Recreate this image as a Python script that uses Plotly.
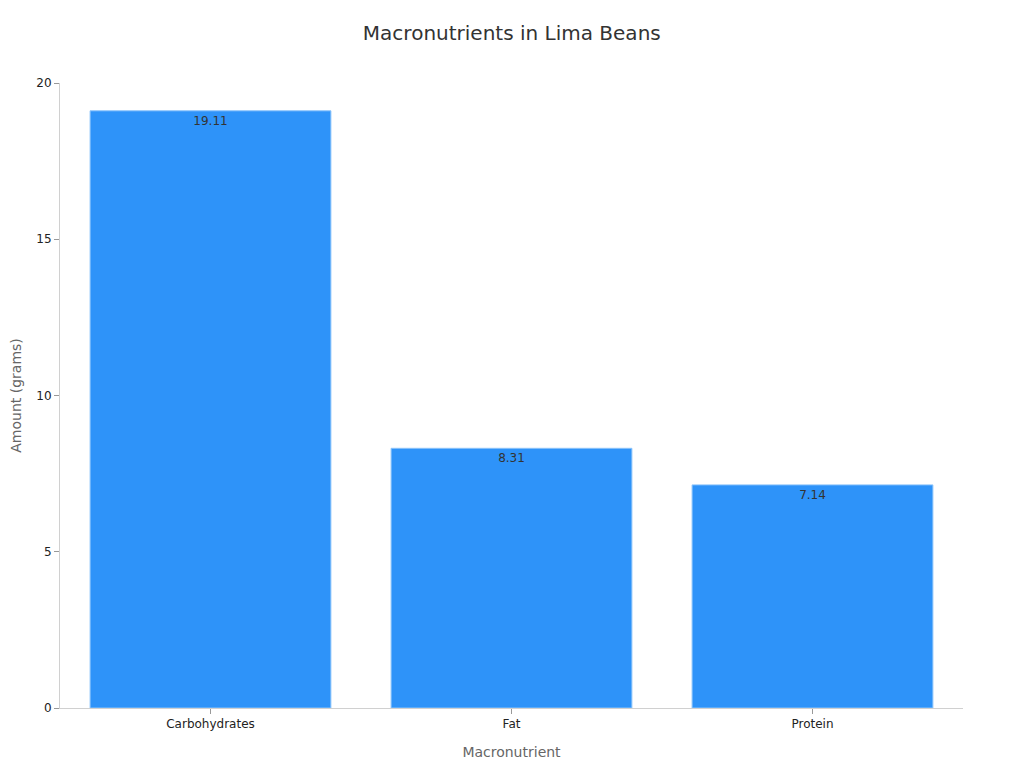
import plotly.graph_objects as go

categories = ["Carbohydrates", "Fat", "Protein"]
values = [19.11, 8.31, 7.14]
labels = ["19.11", "8.31", "7.14"]

fig = go.Figure(go.Bar(
    x=categories, y=values, text=labels,
    textposition="inside", insidetextanchor="end",
    textfont=dict(color="#333333", size=12, family="DejaVu Sans"),
    marker=dict(color="#2E93F9", line=dict(color="#8cc4fb", width=1)),
    cliponaxis=False,
))

fig.update_layout(
    width=1024, height=768,
    paper_bgcolor="white", plot_bgcolor="white",
    font=dict(family="DejaVu Sans", color="#222222", size=12),
    title=dict(text="Macronutrients in Lima Beans", x=0.492, xanchor="center", y=0.9674, yanchor="middle",
               font=dict(size=20, color="#333333")),
    margin=dict(l=52, r=69, t=75, b=68),
    bargap=0.2,
    showlegend=False,
)
fig.update_xaxes(
    title=dict(text="Macronutrient", font=dict(size=14, color="#666666"), standoff=16),
    showline=True, linecolor="#d0d0d0", linewidth=1,
    ticks="outside", tickcolor="#999999", ticklen=5,
    tickfont=dict(size=12, color="#222222"), showgrid=False, automargin=False,
)
fig.update_yaxes(
    title=dict(text="Amount (grams)", font=dict(size=14, color="#666666"), standoff=21),
    range=[0, 20], dtick=5,
    showline=True, linecolor="#d0d0d0", linewidth=1,
    ticks="outside", tickcolor="#999999", ticklen=5,
    tickfont=dict(size=12, color="#222222"), showgrid=False, zeroline=False, automargin=False,
)

fig.write_html("out.html")
